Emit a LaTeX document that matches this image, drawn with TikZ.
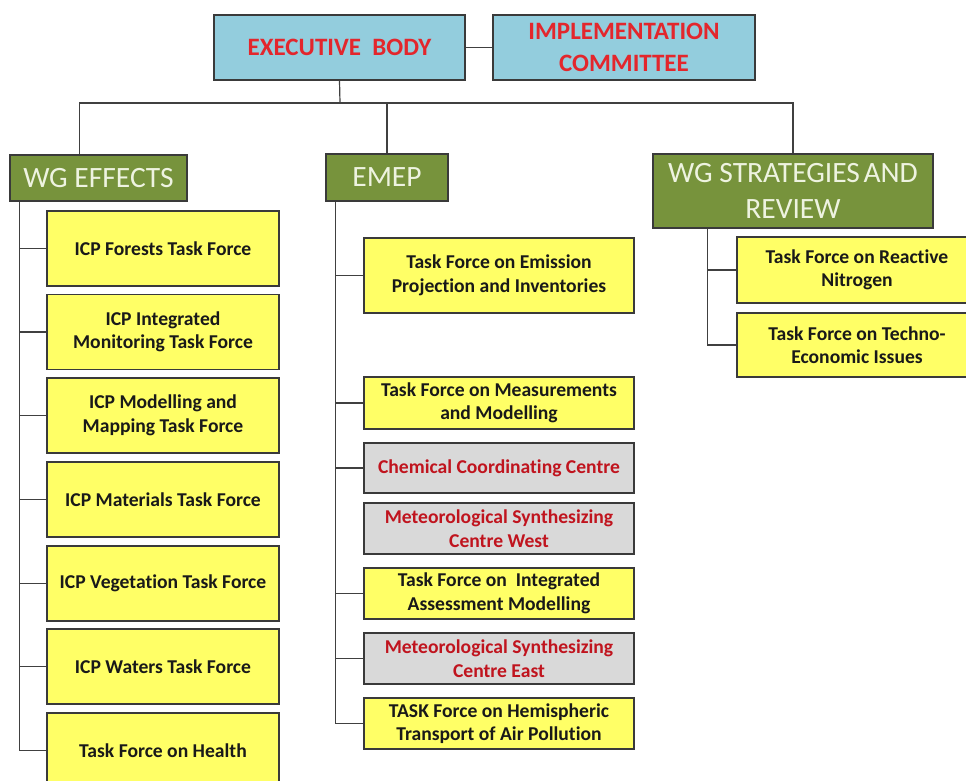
\documentclass[tikz,border=0pt]{standalone}
\usepackage{fontspec}
\setmainfont{Carlito}[Ligatures={NoCommon}]
\definecolor{topfill}{HTML}{93CDDD}
\definecolor{topred}{HTML}{E3262C}
\definecolor{olive}{HTML}{77933C}
\definecolor{wgtext}{HTML}{EEF3E0}
\definecolor{yelfill}{HTML}{FFFF66}
\definecolor{greyfill}{HTML}{D9D9D9}
\definecolor{darkred}{HTML}{C0141E}
\definecolor{boxline}{HTML}{3A3A3A}
\definecolor{connline}{HTML}{404040}
\tikzset{
  box/.style={draw=boxline, line width=1.3pt, inner sep=1pt, align=center, anchor=center},
  topbox/.style={box, fill=topfill, text=topred, font=\bfseries\fontsize{25}{32}\selectfont},
  wgbox/.style={box, fill=olive, text=wgtext, font=\fontsize{29.5}{36}\selectfont},
  yelbox/.style={box, fill=yelfill, text=black!90, font=\bfseries\fontsize{19.6}{23.5}\selectfont},
  greybox/.style={box, fill=greyfill, text=darkred, font=\bfseries\fontsize{19.6}{23.5}\selectfont},
  conn/.style={draw=connline, line width=1.2pt}
}
\begin{document}
\begin{tikzpicture}[x=1pt,y=-1pt]
\useasboundingbox (0,0) rectangle (966,780);
\clip (0,0) rectangle (966,780);
\fill[white] (0,0) rectangle (966,780);

% top level
\node[topbox, minimum width=251pt, minimum height=65pt] (eb) at (339.5,47.5) {EXECUTIVE\ \ BODY};
\node[topbox, minimum width=262pt, minimum height=65pt] (ic) at (624,47.5) {IMPLEMENTATION\\COMMITTEE};
\draw[conn] (eb.east) -- (ic.west);

% working groups
\node[wgbox, minimum width=177pt, minimum height=46pt] (wge) at (98.5,178) {WG EFFECTS};
\node[wgbox, minimum width=122pt, minimum height=47pt] (emep) at (387,177.5) {EMEP};
\node[wgbox, minimum width=280pt, minimum height=74pt] (wgsr) at (793,191) {WG STRATEGIES\hspace{0.12em}AND\\REVIEW};

\coordinate (hub) at (340,103);
\draw[conn] (eb.south) -- (hub);
\draw[conn] ([xshift=70pt]wge.north west) |- (hub -| wgsr.north) -- (wgsr.north);
\draw[conn] (emep.north) -- (emep.north |- hub);

% WG Effects children
\node[yelbox, minimum width=232pt, minimum height=75pt] (forests) at (163,248.5) {ICP Forests Task Force};
\node[yelbox, minimum width=232pt, minimum height=75pt] (integ) at (163,332) {ICP Integrated\\Monitoring Task Force};
\node[yelbox, minimum width=232pt, minimum height=75pt] (mapping) at (163,415.5) {ICP Modelling and\\Mapping Task Force};
\node[yelbox, minimum width=232pt, minimum height=75pt] (materials) at (163,499.5) {ICP Materials Task Force};
\node[yelbox, minimum width=232pt, minimum height=75pt] (veg) at (163,583.5) {ICP Vegetation Task Force};
\node[yelbox, minimum width=232pt, minimum height=75pt] (waters) at (163,666.5) {ICP Waters Task Force};
\node[yelbox, minimum width=232pt, minimum height=75pt] (health) at (163,750.5) {Task Force on Health};

\coordinate (wgesp) at ([xshift=10pt]wge.south west);
\draw[conn] (wgesp) |- (health.west);
\foreach \n in {forests,integ,mapping,materials,veg,waters}
  \draw[conn] (\n.west) -- (\n.west -| wgesp);

% EMEP children
\node[yelbox, minimum width=270pt, minimum height=75pt] (emis) at (499,275.5) {Task Force on Emission\\Projection and Inventories};
\node[yelbox, minimum width=270pt, minimum height=52pt] (meas) at (499,403) {Task Force on Measurements\\and Modelling};
\node[greybox, minimum width=270pt, minimum height=50pt] (chem) at (499,468) {Chemical Coordinating Centre};
\node[greybox, minimum width=270pt, minimum height=51pt] (mscw) at (499,528.5) {Meteorological Synthesizing\\Centre West};
\node[yelbox, minimum width=270pt, minimum height=51pt] (iam) at (499,593.5) {Task Force on\ \ Integrated\\Assessment Modelling};
\node[greybox, minimum width=270pt, minimum height=51pt] (msce) at (499,658.5) {Meteorological Synthesizing\\Centre East};
\node[yelbox, minimum width=270pt, minimum height=51pt] (htap) at (499,723.5) {TASK Force on Hemispheric\\Transport of Air Pollution};

\coordinate (emepsp) at ([xshift=10pt]emep.south west);
\draw[conn] (emepsp) |- (htap.west);
\foreach \n in {emis,meas,chem,iam,msce}
  \draw[conn] (\n.west) -- (\n.west -| emepsp);

% WG Strategies children
\node[yelbox, minimum width=240pt, minimum height=66pt] (nitro) at (857,270) {Task Force on Reactive\\Nitrogen};
\node[yelbox, minimum width=240pt, minimum height=64pt] (techno) at (857,345) {Task Force on Techno-\\Economic Issues};

\coordinate (wgsrsp) at ([xshift=55pt]wgsr.south west);
\draw[conn] (wgsrsp) |- (techno.west);
\draw[conn] (nitro.west) -- (nitro.west -| wgsrsp);
\end{tikzpicture}
\end{document}
